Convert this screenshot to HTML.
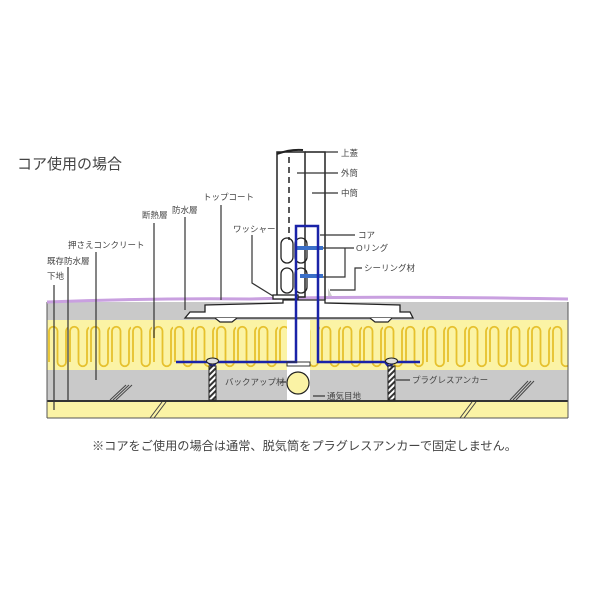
<!DOCTYPE html>
<html><head><meta charset="utf-8"><style>
body{margin:0;background:#fff}
svg{display:block}
text{font-family:"Liberation Sans","Noto Sans CJK JP",sans-serif;fill:#444}
</style></head><body>
<svg width="600" height="600" viewBox="0 0 600 600">
<defs>
<pattern id="wv" x="47" y="0" width="21" height="600" patternUnits="userSpaceOnUse">
<path d="M2,362 L2,331 A4.25,4.25 0 0 1 10.5,331 L10.5,362 A4.25,4.25 0 0 0 19,362 L19,331 A4.25 4.25 0 0 1 23,327" fill="none" stroke="#e6c12e" stroke-width="1.8"/>
</pattern>
<pattern id="ht" width="4" height="4" patternUnits="userSpaceOnUse" patternTransform="rotate(45)">
<rect width="4" height="4" fill="#fff"/><rect width="2" height="4" fill="#333"/>
</pattern>
</defs>
<text x="17" y="169" font-size="15" fill="#333">コア使用の場合</text>

<!-- layers -->
<rect x="47" y="302" width="521" height="18" fill="#c9c9c9"/>
<rect x="47" y="320" width="521" height="50" fill="#fbf3a5"/>
<rect x="47" y="320" width="521" height="50" fill="url(#wv)"/>
<rect x="47" y="370" width="521" height="30" fill="#c9c9c9"/>
<rect x="47" y="400" width="521" height="2" fill="#333"/>
<rect x="47" y="402" width="521" height="16" fill="#fbf3a5"/>
<line x1="47" y1="418" x2="568" y2="418" stroke="#555" stroke-width="1"/>
<line x1="47" y1="302" x2="47" y2="418" stroke="#555"/>
<line x1="568" y1="302" x2="568" y2="418" stroke="#555"/>
<!-- top coat purple -->
<path d="M47,302 Q150,298 250,299 L290,298 Q400,296 568,299" fill="none" stroke="#c9a0e0" stroke-width="3"/>
<!-- hatch marks -->
<g stroke="#444" stroke-width="1">
<line x1="110" y1="400" x2="126" y2="385"/><line x1="113" y1="400" x2="129" y2="385"/><line x1="116" y1="400" x2="132" y2="385"/>
<line x1="510" y1="400" x2="528" y2="381"/><line x1="513" y1="400" x2="531" y2="381"/><line x1="516" y1="400" x2="534" y2="381"/>
<line x1="150" y1="418" x2="162" y2="402"/><line x1="154" y1="418" x2="166" y2="402"/>
<line x1="460" y1="418" x2="472" y2="402"/><line x1="464" y1="418" x2="476" y2="402"/>
</g>
<!-- flange -->
<path d="M185,318 L190,312 L205,312 L205,305 L283,303 L283,300 L325,300 L325,303 L400,305 L400,312 L410,312 L413,318 Z" fill="#fff" stroke="#222" stroke-width="1.3"/>
<path d="M215,318 L220,322 L232,322 L237,318 M370,318 L375,322 L388,322 L392,318" fill="#fff" stroke="#222" stroke-width="1.2"/>
<!-- vent gap -->
<rect x="287" y="320" width="23" height="80" fill="#fff"/>
<!-- pipes -->
<rect x="277" y="152" width="28" height="145" fill="#fff" stroke="#222" stroke-width="1.5"/>
<path d="M305,152 L325,152 L325,300" fill="none" stroke="#222" stroke-width="1.5"/>
<path d="M277,154 Q290,149 303,150" fill="none" stroke="#222" stroke-width="2"/>
<line x1="289" y1="157" x2="289" y2="240" stroke="#222" stroke-width="1.5" stroke-dasharray="6,4"/>
<rect x="273" y="295" width="25" height="4" fill="#fff" stroke="#222" stroke-width="1.3"/>
<path d="M328,288 L332,296 L328,296 Z" fill="#ccc"/>
<!-- o-rings -->
<g fill="none" stroke="#222" stroke-width="1.3">
<rect x="281" y="238" width="12" height="25" rx="6"/><rect x="295" y="238" width="12" height="25" rx="6"/>
<rect x="281" y="268" width="12" height="25" rx="6"/><rect x="295" y="268" width="12" height="25" rx="6"/>
</g>
<rect x="295" y="246" width="28" height="4" fill="#3a6fc8"/>
<rect x="300" y="274" width="23" height="4" fill="#3a6fc8"/>
<!-- core blue -->
<path d="M176,362 L208,362 L213,367 L216,362 L296,362 L296,226 L318,226 L318,362 L385,362 L389,367 L394,362 L420,362" fill="none" stroke="#1a23a8" stroke-width="2.5"/>
<rect x="287" y="362" width="23" height="4" fill="none" stroke="#333" stroke-width="1"/>
<!-- anchors -->
<rect x="209" y="366" width="7" height="34" fill="url(#ht)" stroke="#222"/>
<rect x="388" y="366" width="7" height="34" fill="url(#ht)" stroke="#222"/>
<ellipse cx="212.5" cy="361" rx="6" ry="3" fill="#ddd" stroke="#222"/>
<ellipse cx="391.5" cy="361" rx="6" ry="3" fill="#ddd" stroke="#222"/>
<circle cx="298" cy="383" r="11" fill="#fbf3a5" stroke="#222" stroke-width="1.2"/>

<!-- leaders -->
<g stroke="#333" stroke-width="1.2" fill="none">
<line x1="54" y1="285" x2="54" y2="410"/>
<line x1="68" y1="267" x2="68" y2="400"/>
<line x1="96" y1="252" x2="96" y2="380"/>
<line x1="154" y1="223" x2="154" y2="338"/>
<line x1="185" y1="217" x2="185" y2="310"/>
<line x1="221" y1="205" x2="221" y2="300"/>
<path d="M252,235 L252,283 L273,296"/>
<line x1="303" y1="152" x2="338" y2="152"/>
<line x1="297" y1="173" x2="338" y2="173"/>
<line x1="312" y1="193" x2="338" y2="193"/>
<line x1="320" y1="235" x2="355" y2="235"/>
<path d="M323,248 L345,248 L345,277 L323,277 M345,248 L354,248"/>
<path d="M330,290 L355,290 L355,268 L362,268"/>
<line x1="280" y1="382" x2="286" y2="382"/>
<line x1="396" y1="380" x2="410" y2="380"/>
<line x1="313" y1="396" x2="325" y2="396"/>
</g>
<g font-size="8.5">
<text x="341" y="156">上蓋</text>
<text x="341" y="176">外筒</text>
<text x="341" y="196">中筒</text>
<text x="358" y="238">コア</text>
<text x="356" y="251">Oリング</text>
<text x="364" y="271">シーリング材</text>
<text x="233" y="232">ワッシャー</text>
<text x="203" y="200">トップコート</text>
<text x="172" y="213">防水層</text>
<text x="142" y="218">断熱層</text>
<text x="68" y="248">押さえコンクリート</text>
<text x="47" y="264">既存防水層</text>
<text x="47" y="279">下地</text>
<text x="225" y="385">バックアップ材</text>
<text x="412" y="383">プラグレスアンカー</text>
<text x="327" y="399">通気目地</text>
</g>
<text x="92" y="450" font-size="12.2" fill="#444">※コアをご使用の場合は通常、脱気筒をプラグレスアンカーで固定しません。</text>
</svg>
</body></html>
